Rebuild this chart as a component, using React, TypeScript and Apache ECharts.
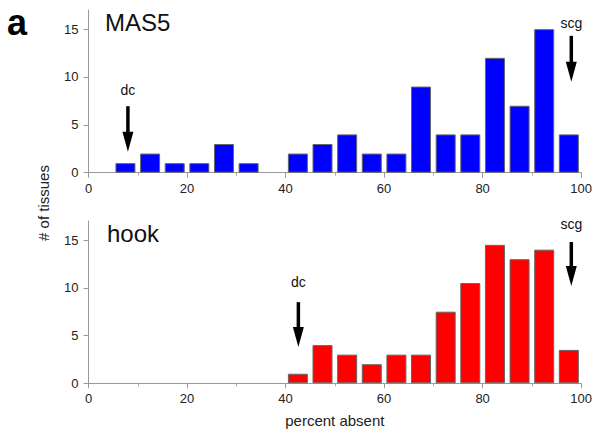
import React, { useEffect, useRef } from 'react';
import * as echarts from 'echarts';

// histogram bins (5% wide), centres on the "percent absent" axis
const mas5Bins = [7.5, 12.5, 17.5, 22.5, 27.5, 32.5, 42.5, 47.5, 52.5, 57.5, 62.5, 67.5, 72.5, 77.5, 82.5, 87.5, 92.5, 97.5];
const mas5Counts = [1, 2, 1, 1, 3, 1, 2, 3, 4, 2, 2, 9, 4, 4, 12, 7, 15, 4];

const hookBins = [42.5, 47.5, 52.5, 57.5, 62.5, 67.5, 72.5, 77.5, 82.5, 87.5, 92.5, 97.5];
const hookCounts = [1, 4, 3, 2, 3, 3, 7.5, 10.5, 14.5, 13, 14, 3.5];

// arrows: [x, y start, y tip, label baseline]
const mas5Arrows = [
  [8, 6.95, 2.2, 7.9],
  [98, 14.3, 9.5, 14.9],
];
const hookArrows = [
  [42.6, 8.5, 3.8, 9.9],
  [98, 14.8, 10.2, 16.0],
];
const arrowLabels = ['dc', 'scg'];

const xTicks = [0, 20, 40, 60, 80, 100];
const yTicks = [0, 5, 10, 15];

const FONT = '"Liberation Sans", Arial, sans-serif';

const App: React.FC = () => {
  const chartRef = useRef<HTMLDivElement>(null);

  useEffect(() => {
    document.body.style.margin = '0';
    if (!chartRef.current) return;
    const chart = echarts.init(chartRef.current, undefined, { renderer: 'svg' });

    const xAxisBase = (gridIndex: number, name?: string) => ({
      type: 'value' as const,
      gridIndex,
      min: 0,
      max: 100,
      interval: 20,
      name,
      nameLocation: 'middle' as const,
      nameGap: 30,
      nameTextStyle: { fontFamily: FONT, fontSize: 15, color: '#222' },
      axisLine: { show: true, onZero: false, lineStyle: { color: '#999', width: 1 } },
      axisTick: { show: true, inside: false, length: 5, lineStyle: { color: '#999' }, customValues: xTicks },
      minorTick: { show: true, splitNumber: 2, length: 3, lineStyle: { color: '#aaa' } },
      axisLabel: { fontFamily: FONT, fontSize: 13, color: '#222', margin: 9, customValues: xTicks },
      splitLine: { show: false },
    });

    const yAxisBase = (gridIndex: number) => ({
      type: 'value' as const,
      gridIndex,
      min: 0,
      max: 17,
      interval: 5,
      axisLine: { show: true, lineStyle: { color: '#999', width: 1 } },
      axisTick: { show: true, inside: false, length: 5, lineStyle: { color: '#999' }, customValues: yTicks },
      axisLabel: { fontFamily: FONT, fontSize: 13, color: '#222', margin: 10, customValues: yTicks },
      splitLine: { show: false },
    });

    const arrowSeries = (idx: number, arrows: number[][]) => ({
      type: 'custom' as const,
      xAxisIndex: idx,
      yAxisIndex: idx,
      data: arrows,
      renderItem: (params: any, api: any) => {
        const start = api.coord([api.value(0), api.value(1)]);
        const tip = api.coord([api.value(0), api.value(2)]);
        const lab = api.coord([api.value(0), api.value(3)]);
        const head = 20;
        return {
          type: 'group',
          children: [
            {
              type: 'line',
              shape: { x1: start[0], y1: start[1], x2: tip[0], y2: tip[1] - head + 2 },
              style: { stroke: '#000', lineWidth: 3.5 },
            },
            {
              type: 'polygon',
              shape: {
                points: [
                  [tip[0] - 5.5, tip[1] - head],
                  [tip[0] + 5.5, tip[1] - head],
                  [tip[0], tip[1]],
                ],
              },
              style: { fill: '#000' },
            },
            {
              type: 'text',
              x: lab[0],
              y: lab[1],
              style: {
                text: arrowLabels[params.dataIndex],
                font: `14px ${FONT}`,
                fill: '#111',
                align: 'center',
                verticalAlign: 'bottom',
              },
            },
          ],
        };
      },
    });

    chart.setOption({
      animation: false,
      grid: [
        { left: 88.5, right: 12.3, top: 10, height: 162.7 },
        { left: 88.5, right: 12.3, top: 221, height: 162.3 },
      ],
      xAxis: [xAxisBase(0), xAxisBase(1, 'percent absent')],
      yAxis: [yAxisBase(0), yAxisBase(1)],
      series: [
        {
          type: 'bar',
          xAxisIndex: 0,
          yAxisIndex: 0,
          barWidth: 20,
          data: mas5Bins.map((b, i) => [b, mas5Counts[i]]),
          itemStyle: { color: '#0000ff', borderColor: '#666', borderWidth: 1 },
        },
        {
          type: 'bar',
          xAxisIndex: 1,
          yAxisIndex: 1,
          barWidth: 20,
          data: hookBins.map((b, i) => [b, hookCounts[i]]),
          itemStyle: { color: '#ff0000', borderColor: '#666', borderWidth: 1 },
        },
        arrowSeries(0, mas5Arrows),
        arrowSeries(1, hookArrows),
      ],
      graphic: [
        { type: 'text', left: 7, top: 4, style: { text: 'a', font: `bold 36px ${FONT}`, fill: '#000' } },
        { type: 'text', left: 105, top: 10, style: { text: 'MAS5', font: `24px ${FONT}`, fill: '#111' } },
        { type: 'text', left: 107, top: 221, style: { text: 'hook', font: `24px ${FONT}`, fill: '#111' } },
        {
          type: 'text',
          x: 43,
          y: 203,
          rotation: Math.PI / 2,
          style: { text: '# of tissues', font: `15px ${FONT}`, fill: '#222', align: 'center', verticalAlign: 'middle' },
        },
      ],
    });

    return () => {
      chart.dispose();
    };
  }, []);

  return <div ref={chartRef} style={{ width: '595px', height: '438px' }} />;
};

export default App;
